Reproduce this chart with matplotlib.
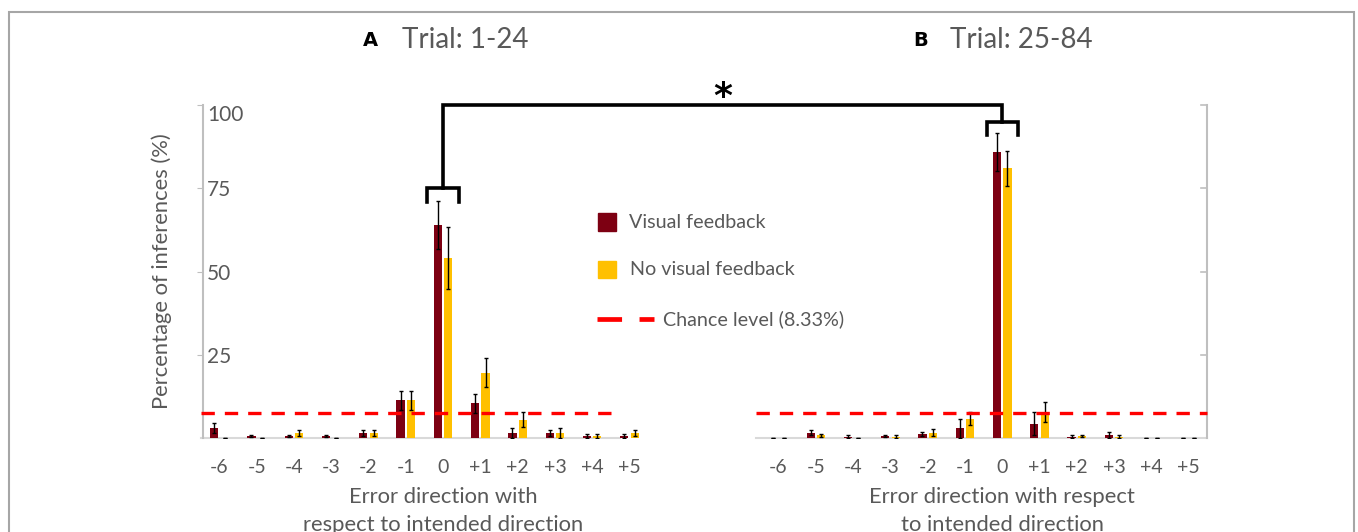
import matplotlib
matplotlib.use("Agg")
import matplotlib.pyplot as plt
from matplotlib.patches import Rectangle
from matplotlib.lines import Line2D
import numpy as np

plt.rcParams['font.family'] = ['Lato', 'DejaVu Sans']

# error direction categories (same for both panels)
directions = ['-6', '-5', '-4', '-3', '-2', '-1', '0', '+1', '+2', '+3', '+4', '+5']

# Panel A, trials 1-24 (% of inferences)
a_visual = [3.0, 0.6, 0.6, 0.6, 1.5, 11.3, 64.0, 10.4, 1.5, 1.5, 0.6, 0.6]
a_visual_err = [1.5, 0.4, 0.4, 0.4, 1.0, 2.8, 7.2, 2.9, 1.5, 1.0, 0.5, 0.5]
a_novisual = [0.0, 0.0, 1.5, 0.0, 1.5, 11.3, 54.0, 19.6, 5.5, 1.5, 0.6, 1.5]
a_novisual_err = [0.0, 0.0, 1.0, 0.0, 1.0, 2.8, 9.3, 4.3, 2.3, 1.5, 0.5, 1.0]

# Panel B, trials 25-84
b_visual = [0.0, 1.6, 0.4, 0.6, 1.3, 2.9, 85.8, 4.3, 0.4, 0.9, 0.0, 0.0]
b_visual_err = [0.0, 0.8, 0.4, 0.3, 0.6, 2.8, 5.7, 3.5, 0.4, 0.8, 0.0, 0.0]
b_novisual = [0.0, 0.8, 0.0, 0.4, 1.6, 5.8, 81.0, 7.8, 0.6, 0.4, 0.0, 0.0]
b_novisual_err = [0.0, 0.4, 0.0, 0.4, 1.0, 2.0, 5.2, 3.0, 0.4, 0.4, 0.0, 0.0]

chance_level = 7.4  # drawn height of the "8.33%" line in the original
yticks = [25, 50, 75, 100]

dark_red = '#7d0012'
gold = '#ffc000'
grey_text = '#595959'
spine_grey = '#bfbfbf'

W, H = 1358, 532
fig = plt.figure(figsize=(W / 100, H / 100), dpi=100)

# grey frame around the figure
fig.patches.append(Rectangle((9 / W, -0.05), (1354 - 9) / W, 1.05 - 12 / H,
                             transform=fig.transFigure, fill=False,
                             edgecolor='#a6a6a6', linewidth=1.5))

ax = fig.add_axes([203 / W, 1 - 438 / H, (1206.5 - 203) / W, (438 - 105) / H])

n = len(directions)
pos_a = np.arange(n)
pos_b = np.arange(n) + 15
off = 0.14
bw = 0.22
ekw = dict(elinewidth=1.0, capthick=1.0, ecolor='black')

for pos, vis, vis_e, nov, nov_e in [(pos_a, a_visual, a_visual_err, a_novisual, a_novisual_err),
                                     (pos_b, b_visual, b_visual_err, b_novisual, b_novisual_err)]:
    ax.bar(pos - off, vis, bw, color=dark_red, zorder=2)
    ax.bar(pos + off, nov, bw, color=gold, zorder=2)
    ax.errorbar(pos - off, vis, yerr=vis_e, fmt='none', capsize=1.6, zorder=3, **ekw)
    ax.errorbar(pos + off, nov, yerr=nov_e, fmt='none', capsize=1.6, zorder=3, **ekw)

# baselines and chance level lines, one per panel
for x0, x1 in [(-0.5, 10.75), (14.4, 26.5)]:
    ax.plot([x0, x1], [0, 0], color='#d9d9d9', lw=1.5, zorder=1, clip_on=False)
    ax.plot([x0, x1], [chance_level] * 2, color='red', lw=2.4,
            dashes=(4, 3), zorder=4, clip_on=False)

ax.set_xlim(-0.44, 26.48)
ax.set_ylim(0, 100)

ax.set_xticks(np.concatenate([pos_a, pos_b]))
ax.set_xticklabels(directions + directions, fontsize=14, color=grey_text)
ax.tick_params(axis='x', length=0, pad=15)

ax.set_yticks(yticks)
ax.set_yticklabels([str(t) for t in yticks], fontsize=15, color=grey_text)
ax.tick_params(axis='y', direction='out', length=4, color=spine_grey,
               pad=-7)
for lab in ax.get_yticklabels():
    lab.set_horizontalalignment('left')
ax.yaxis.get_majorticklabels()[-1].set_verticalalignment('top')

for s in ['top', 'bottom']:
    ax.spines[s].set_visible(False)
for s in ['left', 'right']:
    ax.spines[s].set_color(spine_grey)
    ax.spines[s].set_linewidth(1.5)

# right spine ticks pointing inward
for t in yticks:
    ax.plot([26.48 - 0.15, 26.48], [t, t], color=spine_grey, lw=1.2, clip_on=False)

ax.set_ylabel('Percentage of inferences (%)', fontsize=15.8, color=grey_text, labelpad=18)

# significance bracket between the two "0" groups
xa = pos_a[directions.index('0')]
xb = pos_b[directions.index('0')]
ya = a_visual[directions.index('0')] + 11
yb = b_visual[directions.index('0')] + 9.2
bk = dict(color='black', lw=2.6, clip_on=False, solid_joinstyle='miter', zorder=5)
for xc, yc in [(xa, ya), (xb, yb)]:
    ax.plot([xc - 0.42, xc - 0.42, xc + 0.42, xc + 0.42],
            [yc - 4, yc, yc, yc - 4], **bk)
ax.plot([xa, xa, xb, xb], [ya, 100, 100, yb], **bk)
ax.text((xa + xb) / 2, 103.6, '*', ha='center', va='center_baseline', fontsize=26,
        fontweight='bold', color='black', family='DejaVu Sans')

# legend, drawn by hand
tr = fig.transFigure
fig.patches.append(Rectangle((598 / W, 1 - 231 / H), 17.5 / W, 17.5 / H,
                             transform=tr, color=dark_red))
fig.patches.append(Rectangle((598 / W, 1 - 278 / H), 17.5 / W, 17.5 / H,
                             transform=tr, color=gold))
fig.lines.append(Line2D([597 / W, 654 / W], [1 - 319 / H] * 2, transform=tr,
                        color='red', lw=3.4, dashes=(5.2, 3.7)))
fig.text(629 / W, 1 - 222 / H, 'Visual feedback', fontsize=14.2, color=grey_text, va='center')
fig.text(630 / W, 1 - 269.5 / H, 'No visual feedback', fontsize=14.2, color=grey_text, va='center')
fig.text(663 / W, 1 - 319 / H, 'Chance level (8.33%)', fontsize=14.2, color=grey_text, va='center')

# panel titles
fig.text(370 / W, 1 - 40 / H, 'A', fontsize=14, fontweight='bold', ha='center', va='center',
         family='DejaVu Sans')
fig.text(402 / W, 1 - 40 / H, 'Trial: 1-24', fontsize=20, color=grey_text, va='center')
fig.text(921 / W, 1 - 40 / H, 'B', fontsize=14, fontweight='bold', ha='center', va='center',
         family='DejaVu Sans')
fig.text(950 / W, 1 - 40 / H, 'Trial: 25-84', fontsize=20, color=grey_text, va='center')

# x axis labels
xl = dict(fontsize=15.8, color=grey_text, ha='center', va='center')
fig.text(443 / W, 1 - 497 / H, 'Error direction with', **xl)
fig.text(443 / W, 1 - 525 / H, 'respect to intended direction', **xl)
fig.text(1002 / W, 1 - 497 / H, 'Error direction with respect', **xl)
fig.text(1002 / W, 1 - 525 / H, 'to intended direction', **xl)

fig.savefig('out.png', dpi=100)
